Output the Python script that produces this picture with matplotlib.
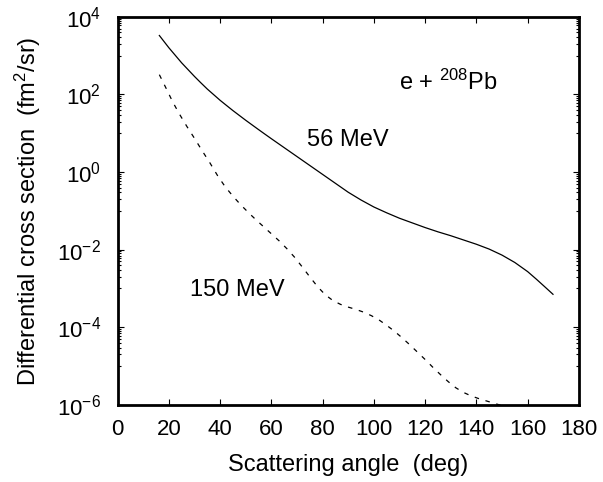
#!/usr/bin/env python

"""Elastic electron scattering on 208Pb, differential cross section"""

import numpy as np
import matplotlib
matplotlib.use("Agg")
import matplotlib.pyplot as plt
from matplotlib.ticker import FixedLocator, LogFormatterMathtext

plt.rcParams["font.family"] = ["Liberation Sans", "DejaVu Sans"]
plt.rcParams["mathtext.fontset"] = "custom"
plt.rcParams["mathtext.rm"] = "Liberation Sans"
plt.rcParams["mathtext.it"] = "Liberation Sans:italic"
plt.rcParams["mathtext.default"] = "regular"

#{{{data
# 56 MeV (solid), log10 of the cross section in fm^2/sr
angle56 = [16.3, 18, 20, 22.5, 25, 27.5, 30, 32.5, 35, 37.5, 40, 42.5, 45,
           47.5, 50, 52.5, 55, 57.5, 60, 65, 70, 75, 80, 85, 90, 95, 100,
           105, 110, 115, 120, 125, 130, 135, 140, 145, 150, 155, 160,
           163.4, 166.5, 169.9]
logSigma56 = [3.52, 3.375, 3.205, 3.01, 2.815, 2.64, 2.465, 2.30, 2.14,
              1.995, 1.85, 1.717, 1.585, 1.46, 1.335, 1.215, 1.095, 0.977,
              0.86, 0.63, 0.40, 0.17, -0.06, -0.29, -0.52, -0.72, -0.90,
              -1.05, -1.19, -1.31, -1.43, -1.54, -1.64, -1.75, -1.86,
              -1.985, -2.14, -2.33, -2.565, -2.76, -2.945, -3.15]

# 150 MeV (dashed)
angle150 = [16.3, 19, 21.5, 24, 27, 30, 33, 36, 39, 42, 45, 48, 51, 54, 57,
            60, 63, 66, 69, 72, 75, 78, 81, 84, 87, 90, 93, 96, 99, 102,
            105, 108, 111, 114, 117, 120, 123, 126, 129, 132, 135, 138,
            141, 144, 147, 150, 153]
logSigma150 = [2.51, 2.15, 1.81, 1.51, 1.18, 0.87, 0.55, 0.24, -0.09, -0.38,
               -0.62, -0.84, -1.04, -1.23, -1.41, -1.59, -1.77, -1.97,
               -2.19, -2.44, -2.70, -2.95, -3.16, -3.31, -3.41, -3.48,
               -3.54, -3.61, -3.70, -3.81, -3.95, -4.10, -4.27, -4.45,
               -4.64, -4.83, -5.03, -5.22, -5.40, -5.56, -5.68, -5.77,
               -5.84, -5.90, -5.96, -6.02, -6.08]

xTicks = [0, 20, 40, 60, 80, 100, 120, 140, 160, 180]
yTicks = [1e-6, 1e-4, 1e-2, 1e0, 1e2, 1e4]
#}}}

fig = plt.figure(figsize=(6.03, 4.82), dpi=100)
ax = fig.add_axes([0.195, 0.160, 0.765, 0.805])

ax.plot(angle56, 10.0**np.array(logSigma56), color="black", lw=0.9)
ax.plot(angle150, 10.0**np.array(logSigma150), color="black", lw=0.9,
        linestyle=(0, (3.6, 5.4)))

ax.set_yscale("log")
ax.set_xlim(0, 180)
ax.set_ylim(1e-6, 1e4)

# Major ticks every two decades, minor ticks in the lower decade of each pair
ax.xaxis.set_major_locator(FixedLocator(xTicks))
ax.yaxis.set_major_locator(FixedLocator(yTicks))
minor = [k * 10.0**e for e in range(-7, 4, 2) for k in range(1, 10)]
ax.yaxis.set_minor_locator(FixedLocator(minor))
ax.yaxis.set_major_formatter(LogFormatterMathtext())
ax.yaxis.set_minor_formatter(plt.NullFormatter())

ax.tick_params(which="both", direction="in", top=True, right=True,
               labelsize=16, width=0.8)
ax.tick_params(which="major", length=4.5)
ax.tick_params(which="minor", length=2.2)
ax.tick_params(axis="x", pad=10)
ax.tick_params(axis="y", pad=12)

for spine in ax.spines.values():
    spine.set_linewidth(2.0)

ax.set_xlabel("Scattering angle  (deg)", fontsize=17, labelpad=10)
ax.set_ylabel("Differential cross section  (fm$^2$/sr)", fontsize=17,
              labelpad=10)

# Annotations
ax.text(110.0, 10**2.12, "e + $^{208}$Pb", fontsize=17, va="baseline")
ax.text(73.9, 10**0.83, "56 MeV", fontsize=17, va="center")
ax.text(28.3, 10**-3.04, "150 MeV", fontsize=17, va="center")

fig.savefig("out.png", dpi=100)
plt.close(fig)
